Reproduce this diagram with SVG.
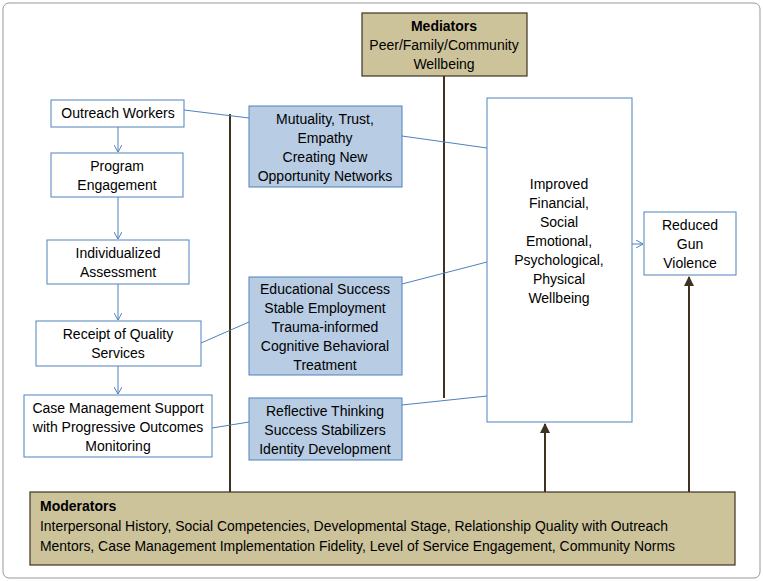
<svg xmlns="http://www.w3.org/2000/svg" width="763" height="581" viewBox="0 0 763 581">
<style>
text{font-family:"Liberation Sans",Arial,sans-serif;font-size:14px;fill:#000;text-anchor:middle}
text.s{text-anchor:start}
.w{fill:#fff;stroke:#4f81bd;stroke-width:1}
.b{fill:#b8cce4;stroke:#4f81bd;stroke-width:1}
.t{fill:#cdc39b;stroke:#3d3320;stroke-width:1.2}
.c{stroke:#4f81bd;stroke-width:1;fill:none}
.d{stroke:#3d3320;stroke-width:2;fill:none}
</style>
<defs>
<marker id="a" markerWidth="8" markerHeight="8" refX="7" refY="4" orient="auto" markerUnits="userSpaceOnUse"><path d="M0,0L7,4L0,8" fill="none" stroke="#4f81bd"/></marker>
<marker id="k" markerWidth="10" markerHeight="10" refX="9" refY="5" orient="auto" markerUnits="userSpaceOnUse"><path d="M0,0L10,5L0,10z" fill="#3d3320"/></marker>
</defs>
<rect x="3" y="3" width="757" height="575" rx="6" fill="#fff" stroke="#999"/>
<g id="connectors">
<line class="d" x1="230" y1="114" x2="230" y2="492"/>
<line class="d" x1="444" y1="76" x2="444" y2="398"/>
<line class="d" x1="545" y1="492" x2="545" y2="424" marker-end="url(#k)"/>
<line class="d" x1="689" y1="492" x2="689" y2="277" marker-end="url(#k)"/>
<line class="c" x1="118" y1="127" x2="118" y2="152" marker-end="url(#a)"/>
<line class="c" x1="118" y1="197" x2="118" y2="239" marker-end="url(#a)"/>
<line class="c" x1="118" y1="284" x2="118" y2="320" marker-end="url(#a)"/>
<line class="c" x1="118" y1="366" x2="118" y2="394" marker-end="url(#a)"/>
<line class="c" x1="184" y1="110" x2="249" y2="118"/>
<line class="c" x1="402" y1="136" x2="487" y2="148"/>
<line class="c" x1="402" y1="284" x2="487" y2="262"/>
<line class="c" x1="201" y1="343" x2="249" y2="322"/>
<line class="c" x1="212" y1="428" x2="249" y2="422"/>
<line class="c" x1="402" y1="405" x2="487" y2="396"/>
<line class="c" x1="632" y1="244" x2="643" y2="244" marker-end="url(#a)"/>
</g>
<g id="mediators"><rect class="t" x="362" y="13" width="165" height="63"/>
<text x="444" y="31" font-weight="bold">Mediators</text><text x="444" y="50">Peer/Family/Community</text><text x="444" y="69">Wellbeing</text></g>
<g id="outreach"><rect class="w" x="51" y="100" width="133" height="27"/><text x="118" y="118">Outreach Workers</text></g>
<g id="program"><rect class="w" x="51" y="153" width="132" height="44"/><text x="117" y="171">Program</text><text x="117" y="190">Engagement</text></g>
<g id="assess"><rect class="w" x="47" y="240" width="142" height="44"/><text x="118" y="258">Individualized</text><text x="118" y="277">Assessment</text></g>
<g id="receipt"><rect class="w" x="36" y="321" width="165" height="45"/><text x="118" y="339">Receipt of Quality</text><text x="118" y="358">Services</text></g>
<g id="casemgmt"><rect class="w" x="24" y="395" width="188" height="62"/><text x="118" y="413">Case Management Support</text><text x="118" y="432">with Progressive Outcomes</text><text x="118" y="451">Monitoring</text></g>
<g id="mutuality"><rect class="b" x="249" y="106" width="153" height="81"/><text x="325" y="124">Mutuality, Trust,</text><text x="325" y="143">Empathy</text><text x="325" y="162">Creating New</text><text x="325" y="181">Opportunity Networks</text></g>
<g id="educational"><rect class="b" x="249" y="277" width="153" height="98"/><text x="325" y="294">Educational Success</text><text x="325" y="313">Stable Employment</text><text x="325" y="332">Trauma-informed</text><text x="325" y="351">Cognitive Behavioral</text><text x="325" y="370">Treatment</text></g>
<g id="reflective"><rect class="b" x="249" y="398" width="153" height="62"/><text x="325" y="416">Reflective Thinking</text><text x="325" y="435">Success Stabilizers</text><text x="325" y="454">Identity Development</text></g>
<g id="improved"><rect class="w" x="487" y="98" width="145" height="324"/><text x="559" y="189">Improved</text><text x="559" y="208">Financial,</text><text x="559" y="227">Social</text><text x="559" y="246">Emotional,</text><text x="559" y="265">Psychological,</text><text x="559" y="284">Physical</text><text x="559" y="303">Wellbeing</text></g>
<g id="reduced"><rect class="w" x="644" y="212" width="92" height="63"/><text x="690" y="230">Reduced</text><text x="690" y="249">Gun</text><text x="690" y="268">Violence</text></g>
<g id="moderators"><rect class="t" x="30" y="492" width="705" height="73"/>
<text class="s" x="40" y="511" font-weight="bold">Moderators</text>
<text class="s" x="40" y="531" textLength="628" lengthAdjust="spacingAndGlyphs">Interpersonal History, Social Competencies, Developmental Stage, Relationship Quality with Outreach</text>
<text class="s" x="40" y="551" textLength="635" lengthAdjust="spacingAndGlyphs">Mentors, Case Management Implementation Fidelity, Level of Service Engagement, Community Norms</text></g>
</svg>
